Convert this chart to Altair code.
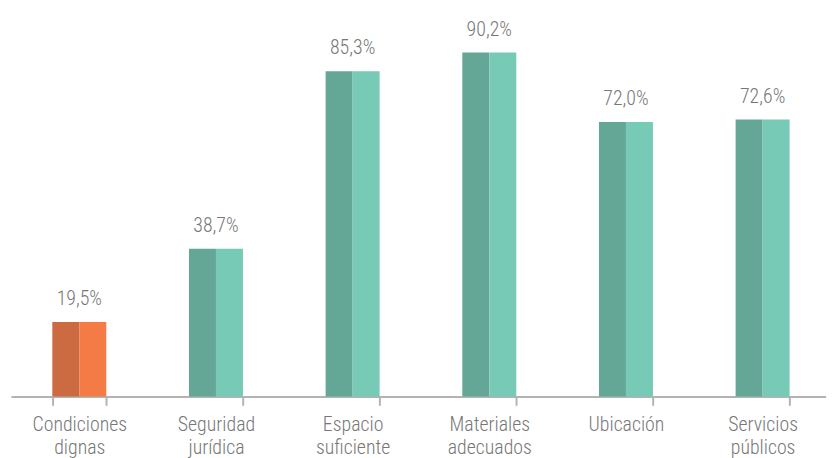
import altair as alt
import pandas as pd

categories = ["Condiciones dignas", "Seguridad jurídica", "Espacio suficiente",
              "Materiales adecuados", "Ubicación", "Servicios públicos"]
values = [19.5, 38.7, 85.3, 90.2, 72.0, 72.6]
labels = ["19,5%", "38,7%", "85,3%", "90,2%", "72,0%", "72,6%"]
groups = ["orange", "teal", "teal", "teal", "teal", "teal"]
halves = ["a", "b"]

rows = []
for c, v, g in zip(categories, values, groups):
    for h in halves:
        rows.append({"cat": c, "value": v, "half": h, "key": g + "_" + h})
bars_df = pd.DataFrame(rows)
lab_df = pd.DataFrame({"cat": categories, "value": values, "label": labels})

FONT = "Roboto Condensed, Liberation Sans Narrow, DejaVu Sans Condensed, Roboto"

xscale = alt.Scale(domain=categories, range=[0, 828], paddingInner=0.605, paddingOuter=0.3025)
x = alt.X("cat:N", scale=xscale, sort=categories, title=None,
          axis=alt.Axis(labelAngle=0, labelExpr="split(datum.label, ' ')",
                        labelFont=FONT, labelFontSize=20, labelColor="#777777",
                        labelFontWeight=300, labelLineHeight=24, labelPadding=9,
                        domainColor="#b3b3b3", domainWidth=2, tickColor="#b3b3b3",
                        tickWidth=2, tickSize=9, tickBand="extent"))
y = alt.Y("value:Q", scale=alt.Scale(domain=[0, 100]), axis=None)

bars = alt.Chart(bars_df).mark_bar().encode(
    x=x,
    xOffset=alt.XOffset("half:N", scale=alt.Scale(paddingInner=0, paddingOuter=0)),
    y=y,
    color=alt.Color("key:N", legend=None, scale=alt.Scale(
        domain=["orange_a", "orange_b", "teal_a", "teal_b"],
        range=["#CC6B42", "#F47A46", "#64A796", "#76CAB6"])),
)

text = alt.Chart(lab_df).mark_text(dy=-17, font=FONT, fontSize=20, fontWeight=300,
                                   color="#777777", baseline="alphabetic").encode(
    x=alt.X("cat:N", scale=xscale, sort=categories),
    y=y,
    text="label:N",
)

chart = (bars + text).properties(
    width=823, height=385,
    background="white",
    autosize=alt.AutoSizeParams(type="none"),
    padding={"left": 3, "top": 5, "right": 0, "bottom": 60},
).configure_view(stroke=None, strokeWidth=0)

chart.save("out.html", embed_options={"renderer": "svg", "actions": False})
